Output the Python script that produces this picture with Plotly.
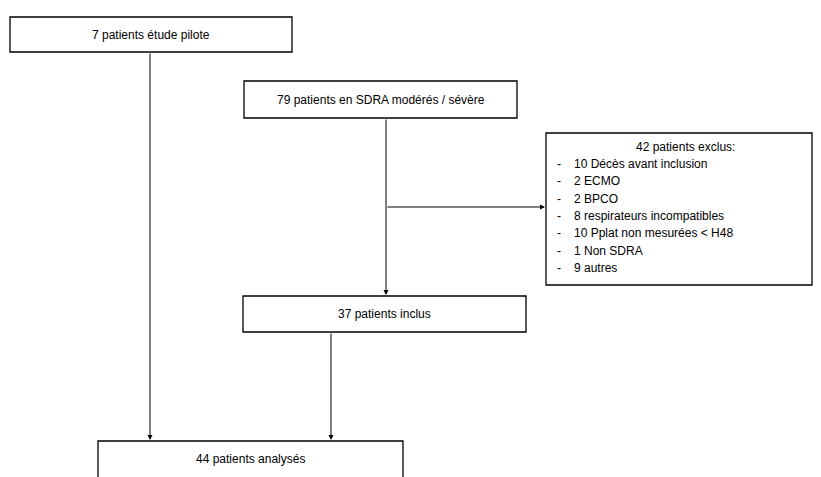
import plotly.graph_objects as go

W, H = 821, 477
OFF = 8  # page body margin in the browser

# boxes: label, x0, y0, x1, y1
box_labels = ["7 patients étude pilote", "79 patients en SDRA modérés / sévère",
              "37 patients inclus", "44 patients analysés"]
box_x0 = [10, 244, 243, 98]
box_x1 = [292, 517, 526, 403]
box_y0 = [17, 81, 296, 441]
box_y1 = [52, 118, 332, 490]

excl_title = "42 patients exclus:"
excl_items = ["10 Décès avant inclusion", "2 ECMO", "2 BPCO", "8 respirateurs incompatibles",
              "10 Pplat non mesurées < H48", "1 Non SDRA", "9 autres"]
excl_box = (546, 133, 812, 285)

# arrows: (x_tail, y_tail, x_head, y_head)
arrows = [(150, 52, 150, 440), (386, 118, 386, 295), (386, 207, 545, 207), (331, 332, 331, 440)]

font = dict(family="Liberation Sans, Arial", size=12, color="black")

fig = go.Figure()
shapes = []
annotations = []
for lab, x0, x1, y0, y1 in zip(box_labels, box_x0, box_x1, box_y0, box_y1):
    shapes.append(dict(type="rect", x0=x0, x1=x1, y0=y0, y1=y1, line=dict(color="black", width=1.3)))
    ty = (y0 + y1) / 2 if y1 < H else y0 + 18
    annotations.append(dict(x=(x0 + x1) / 2, y=ty, text=lab, showarrow=False, font=font))

ex0, ey0, ex1, ey1 = excl_box
shapes.append(dict(type="rect", x0=ex0, x1=ex1, y0=ey0, y1=ey1, line=dict(color="black", width=1.3)))
annotations.append(dict(x=(ex0 + ex1) / 2 + 6, y=147, text=excl_title, showarrow=False, font=font))
for i, item in enumerate(excl_items):
    y = 164 + i * 17.3
    annotations.append(dict(x=555, y=y, text="-", showarrow=False, font=font, xanchor="left"))
    annotations.append(dict(x=572, y=y, text=item, showarrow=False, font=font, xanchor="left"))

for xt, yt, xh, yh in arrows:
    annotations.append(dict(x=xh, y=yh, ax=xt, ay=yt, xref="x", yref="y", axref="x", ayref="y",
                            text="", showarrow=True, arrowhead=2, arrowsize=1, arrowwidth=1, arrowcolor="black"))

fig.update_layout(
    width=W, height=H, margin=dict(l=0, r=0, t=0, b=0),
    paper_bgcolor="white", plot_bgcolor="white",
    xaxis=dict(range=[OFF, W + OFF], visible=False, fixedrange=True),
    yaxis=dict(range=[H + OFF, OFF], visible=False, fixedrange=True),
    shapes=shapes, annotations=annotations, showlegend=False,
)
fig.write_html("out.html")
